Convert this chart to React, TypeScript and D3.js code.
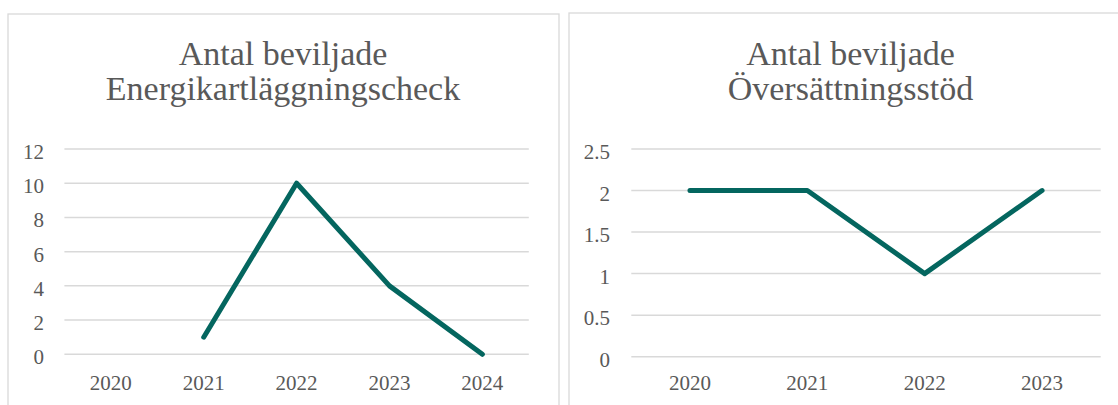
import React from 'react';
import * as d3 from 'd3';

// Energikartläggningscheck
const leftYears = ['2020', '2021', '2022', '2023', '2024'];
const leftValues: (number | null)[] = [null, 1, 10, 4, 0];
const leftTicks = [0, 2, 4, 6, 8, 10, 12];

// Översättningsstöd
const rightYears = ['2020', '2021', '2022', '2023'];
const rightValues: (number | null)[] = [2, 2, 1, 2];
const rightTicks = [0, 0.5, 1, 1.5, 2, 2.5];

const TEXT = '#595959';
const GRID = '#d9d9d9';
const LINE = '#04665f';
const FONT = '"Liberation Serif", "Times New Roman", serif';

interface PanelProps {
  x: number;
  y: number;
  width: number;
  title: string[];
  years: string[];
  values: (number | null)[];
  ticks: number[];
  plotLeft: number;
  plotRight: number;
  plotTop: number;
  plotBottom: number;
  labelRight: number;
}

const Panel: React.FC<PanelProps> = ({
  x, y, width, title, years, values, ticks,
  plotLeft, plotRight, plotTop, plotBottom, labelRight,
}) => {
  const xs = d3.scaleBand().domain(years).range([plotLeft, plotRight]);
  const ys = d3.scaleLinear()
    .domain([0, d3.max(ticks)!])
    .range([plotBottom, plotTop]);

  const pts = years.map((yr, i) => ({ yr, v: values[i] }));
  const line = d3.line<{ yr: string; v: number | null }>()
    .defined(d => d.v != null)
    .x(d => xs(d.yr)! + xs.bandwidth() / 2)
    .y(d => ys(d.v as number));

  const cx = x + width / 2;

  return (
    <g>
      <rect x={x + 0.5} y={y + 0.5} width={width} height={500} fill="#fff" stroke={GRID} strokeWidth={1.3} />
      {title.map((t, i) => (
        <text key={t} x={cx} y={65 + i * 35} textAnchor="middle" fontSize={34} fill={TEXT} fontFamily={FONT}>
          {t}
        </text>
      ))}
      {ticks.map(t => (
        <g key={t}>
          <line x1={plotLeft} x2={plotRight} y1={ys(t)} y2={ys(t)} stroke={GRID} strokeWidth={1.5} />
          <text x={labelRight} y={ys(t) + 10} textAnchor="end" fontSize={21} fill={TEXT} fontFamily={FONT}>
            {d3.format('')(t)}
          </text>
        </g>
      ))}
      {years.map(yr => (
        <text key={yr} x={xs(yr)! + xs.bandwidth() / 2} y={390} textAnchor="middle" fontSize={21} fill={TEXT} fontFamily={FONT}>
          {yr}
        </text>
      ))}
      <path d={line(pts) || ''} fill="none" stroke={LINE} strokeWidth={5} strokeLinecap="round" strokeLinejoin="round" />
    </g>
  );
};

const App: React.FC = () => {
  return (
    <svg width={1118} height={405} style={{ position: 'absolute', left: 0, top: 0, background: '#fff' }}>
      <Panel
        x={7.5} y={13.5} width={551}
        title={['Antal beviljade', 'Energikartläggningscheck']}
        years={leftYears} values={leftValues} ticks={leftTicks}
        plotLeft={64.4} plotRight={528.8} plotTop={149} plotBottom={354.3}
        labelRight={44}
      />
      <Panel
        x={568.5} y={12.5} width={564}
        title={['Antal beviljade', 'Översättningsstöd']}
        years={rightYears} values={rightValues} ticks={rightTicks}
        plotLeft={631.3} plotRight={1100.7} plotTop={149} plotBottom={356.7}
        labelRight={610}
      />
    </svg>
  );
};

export default App;
